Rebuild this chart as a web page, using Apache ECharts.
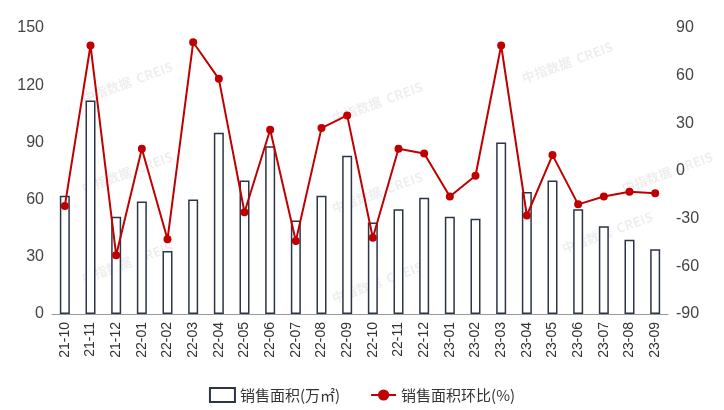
<!DOCTYPE html>
<html>
<head>
<meta charset="utf-8">
<script src="https://cdn.jsdelivr.net/npm/echarts@6/dist/echarts.min.js"></script>
<style>html,body{margin:0;padding:0;background:#fff}#main{width:724px;height:410px}</style>
</head>
<body>
<div id="main"></div>
<script>
// 月份
var months = ['21-10','21-11','21-12','22-01','22-02','22-03','22-04','22-05','22-06','22-07','22-08','22-09',
    '22-10','22-11','22-12','23-01','23-02','23-03','23-04','23-05','23-06','23-07','23-08','23-09'];
// 销售面积(万㎡)
var area = [62,112,51,59,33,60,95,70,88,49,62,83,48,55,61,51,50,90,64,70,55,46,39,34];
// 环比(%)
var ratio = [-22,79,-53,14,-43,81,58,-26,26,-44,27,35,-42,14,11,-16,-3,79,-28,10,-21,-16,-13,-14];

var chart = echarts.init(document.getElementById('main'));
var wm = [[80,60],[330,80],[520,40],[80,150],[330,170],[620,150],[80,240],[330,260],[560,210]];
var option = {
    animation: false,
    grid: {left: 52, right: 56, top: 28, bottom: 96},
    graphic: wm.map(function(p){
        return {type:'text', left:p[0], top:p[1], rotation: 0.35,
            style:{text:'中指数据  CREIS', fill:'rgba(0,0,0,0.07)', font:'bold 13px "Noto Sans CJK SC"'}};
    }),
    legend: {
        bottom: 2, itemGap: 30,
        textStyle: {fontSize: 15, color: '#333', fontFamily: 'Noto Sans CJK SC'},
        data: [{name:'销售面积(万㎡)', icon:'rect'}, {name:'销售面积环比(%)'}]
    },
    xAxis: {
        type: 'category', data: months,
        axisLine: {lineStyle: {color: '#999'}},
        axisTick: {show: false},
        axisLabel: {rotate: 90, color: '#333', fontSize: 14, interval: 0}
    },
    yAxis: [
        {type:'value', min:0, max:150, interval:30, splitLine:{show:false},
            axisLabel:{color:'#444', fontSize:16}},
        {type:'value', min:-90, max:90, interval:30, splitLine:{show:false},
            axisLabel:{color:'#444', fontSize:16}}
    ],
    series: [
        {name:'销售面积(万㎡)', type:'bar', data: area, barWidth: 10,
            itemStyle:{color:'#fff', borderColor:'#2a3548', borderWidth:1.5}},
        {name:'销售面积环比(%)', type:'line', yAxisIndex:1, data: ratio,
            symbol:'circle', symbolSize:8,
            lineStyle:{color:'#c00000', width:2}, itemStyle:{color:'#c00000'}}
    ]
};
chart.setOption(option);
</script>
</body>
</html>
